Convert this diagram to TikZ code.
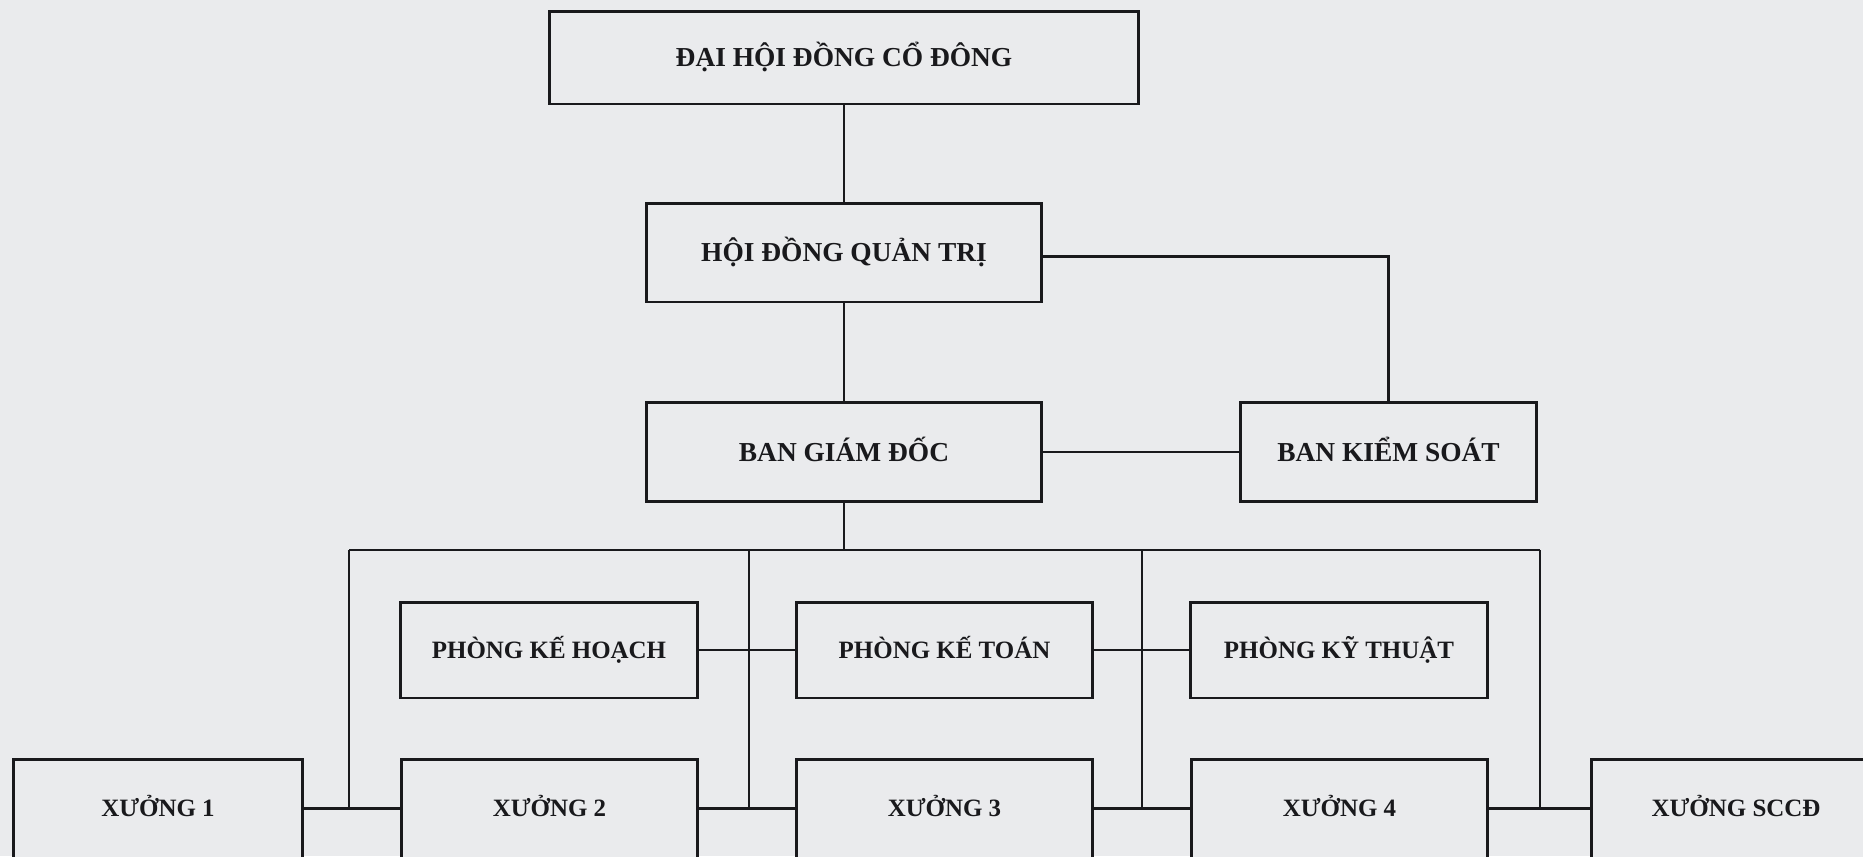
\documentclass[tikz,border=0pt]{standalone}
\usepackage{fontspec}
\setmainfont{Liberation Serif}
\definecolor{bgc}{RGB}{234,235,237}
\definecolor{ink}{RGB}{25,25,28}
\tikzset{
  orgbox/.style={draw=ink, line width=1.7pt, fill=bgc, inner sep=0pt, align=center, text=ink,
    font=\bfseries\fontsize{15.6}{18}\selectfont, text height=10.3pt, text depth=0pt},
  unitbox/.style={orgbox, font=\bfseries\fontsize{14.2}{17}\selectfont, text height=9.4pt},
  link/.style={draw=ink, line width=1.2pt}
}
\begin{document}
\begin{tikzpicture}[x=0.02cm,y=-0.02cm]
\useasboundingbox (0,0) rectangle (1863,856);
\clip (0,0) rectangle (1863,856);
\fill[bgc] (0,0) rectangle (1863,856);

% top levels
\node[orgbox, minimum width=11.8cm, minimum height=1.86cm] (DH) at (844,57.5) {ĐẠI HỘI ĐỒNG CỔ ĐÔNG};
\node[orgbox, minimum width=7.9cm, minimum height=1.98cm] (HDQT) at (844,252.5) {HỘI ĐỒNG QUẢN TRỊ};
\node[orgbox, minimum width=7.9cm, minimum height=1.98cm] (BGD) at (844,452) {BAN GIÁM ĐỐC};
\node[orgbox, minimum width=5.94cm, minimum height=1.98cm] (BKS) at (1388.5,452) {BAN KIỂM SOÁT};

% departments
\node[unitbox, minimum width=5.94cm, minimum height=1.92cm] (PKH) at (549,650) {PHÒNG KẾ HOẠCH};
\node[unitbox, minimum width=5.94cm, minimum height=1.92cm] (PKT) at (944.5,650) {PHÒNG KẾ TOÁN};
\node[unitbox, minimum width=5.94cm, minimum height=1.92cm] (PKKT) at (1339,650) {PHÒNG KỸ THUẬT};

% workshops
\node[unitbox, minimum width=5.8cm, minimum height=1.98cm] (X1) at (158,808.5) {XƯỞNG 1};
\node[unitbox, minimum width=5.94cm, minimum height=1.98cm] (X2) at (549.5,808.5) {XƯỞNG 2};
\node[unitbox, minimum width=5.94cm, minimum height=1.98cm] (X3) at (944.5,808.5) {XƯỞNG 3};
\node[unitbox, minimum width=5.94cm, minimum height=1.98cm] (X4) at (1339.5,808.5) {XƯỞNG 4};
\node[unitbox, minimum width=5.8cm, minimum height=1.98cm] (XS) at (1736,808.5) {XƯỞNG SCCĐ};

% bus coordinates
\coordinate (busL) at (349,550);
\coordinate (v2) at (749,550);
\coordinate (v3) at (1142,550);
\coordinate (busR) at (1540,550);

% connectors
\draw[link] (DH.south) -- (HDQT.north);
\draw[link] (HDQT.south) -- (BGD.north);
\draw[link] ([yshift=-2.3pt]HDQT.east) -| (BKS.north);
\draw[link] (BGD.east) -- (BKS.west);
\draw[link] (BGD.south) -- (BGD.south |- busL);
\draw[link] (busL) -- (busR);
\draw[link] (busL) -- (busL |- X1.east);
\draw[link] (v2) -- (v2 |- X2.east);
\draw[link] (v3) -- (v3 |- X3.east);
\draw[link] (busR) -- (busR |- X4.east);
\draw[link] (PKH.east) -- (PKT.west);
\draw[link] (PKT.east) -- (PKKT.west);
\draw[link] (X1.east) -- (X2.west);
\draw[link] (X2.east) -- (X3.west);
\draw[link] (X3.east) -- (X4.west);
\draw[link] (X4.east) -- (XS.west);
\end{tikzpicture}
\end{document}
